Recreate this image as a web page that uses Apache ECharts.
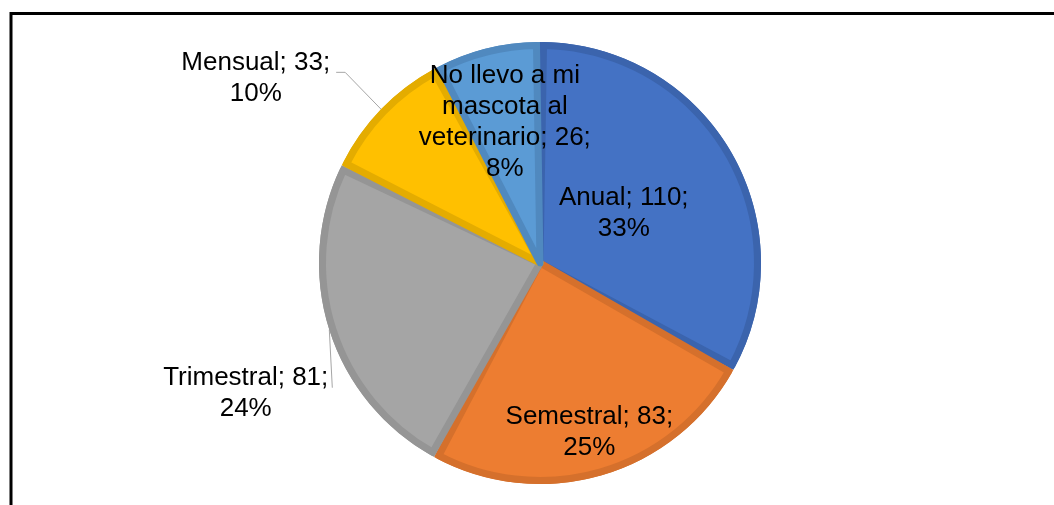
<!DOCTYPE html>
<html>
<head>
<meta charset="utf-8">
<script src="https://cdn.jsdelivr.net/npm/echarts@6/dist/echarts.min.js"></script>
<style>
  html, body { margin: 0; padding: 0; background: #fff; overflow: hidden; }
  #chart { width: 1054px; height: 505px; }
</style>
</head>
<body>
<div id="chart"></div>
<script>
// How often pets are taken to the vet
const categories = ['Anual', 'Semestral', 'Trimestral', 'Mensual', 'No llevo a mi\nmascota al\nveterinario'];
const values = [110, 83, 81, 33, 26];
const fillColors = ['#4472C4', '#ED7D31', '#A5A5A5', '#FFC000', '#5B9BD5'];
const edgeColors = ['#3B64AD', '#D5702C', '#959595', '#E4AC00', '#5089BF'];

const CX = 540, CY = 263, R = 221, EDGE = 7;

// Label placement: inside labels sit on the slice bisector at a fraction of the radius;
// outside labels hang off the rim point with a bent leader line.
const labelPlacement = {
  0: { frac: 0.44 },
  1: { frac: 0.80 },
  4: { frac: 0.655 },
  3: { line: [[-36, -37], [-45, -37]], right: -51, dy: -31 },
  2: { line: [[3, 58], [3, 58]], right: -1, dy: 64 }
};

const total = values.reduce((a, b) => a + b, 0);
function midAngle(i) {
  let before = 0;
  for (let k = 0; k < i; k++) before += values[k];
  return (90 - (before + values[i] / 2) / total * 360) * Math.PI / 180;
}

const fillData = categories.map((name, i) => {
  const outside = labelPlacement[i].frac === undefined;
  return {
    name: name,
    value: values[i],
    itemStyle: { color: fillColors[i], borderColor: edgeColors[i] },
    label: { position: outside ? 'outside' : 'inside' },
    labelLine: { show: outside }
  };
});
const edgeData = categories.map((name, i) => ({
  name: name,
  value: values[i],
  itemStyle: { color: edgeColors[i] }
}));

const chart = echarts.init(document.getElementById('chart'), null, { renderer: 'canvas' });
chart.setOption({
  animation: false,
  backgroundColor: '#ffffff',
  graphic: [{
    type: 'rect',
    silent: true,
    shape: { x: 11, y: 13.5, width: 1200, height: 800 },
    style: { fill: 'none', stroke: '#000000', lineWidth: 3 }
  }],
  series: [
    {
      // darker rim underneath, shows through as the slice outlines
      type: 'pie',
      silent: true,
      center: [CX, CY],
      radius: R,
      startAngle: 90,
      clockwise: true,
      label: { show: false },
      labelLine: { show: false },
      emphasis: { disabled: true },
      data: edgeData,
      z: 1
    },
    {
      type: 'pie',
      center: [CX, CY],
      radius: R - EDGE / 2,
      startAngle: 90,
      clockwise: true,
      padAngle: 1.85,
      percentPrecision: 0,
      avoidLabelOverlap: false,
      emphasis: { disabled: true },
      itemStyle: { borderWidth: EDGE, borderJoin: 'round' },
      label: {
        show: true,
        formatter: p => `${p.name}; ${p.value};\n${p.percent}%`,
        fontFamily: '"Liberation Sans", Arial, sans-serif',
        fontSize: 26,
        lineHeight: 31,
        color: '#000000',
        align: 'center'
      },
      labelLine: {
        length: 10,
        length2: 10,
        lineStyle: { color: '#A6A6A6', width: 1 }
      },
      labelLayout: function (params) {
        const i = params.dataIndex;
        const p = labelPlacement[i];
        const a = midAngle(i);
        const ux = Math.cos(a), uy = -Math.sin(a);
        const rect = params.labelRect;
        if (p.frac !== undefined) {
          return {
            x: CX + ux * p.frac * R,
            y: CY + uy * p.frac * R,
            align: 'center',
            verticalAlign: 'middle'
          };
        }
        const rx = CX + ux * R, ry = CY + uy * R;
        return {
          x: rx + p.right - rect.width / 2,
          y: ry + p.dy,
          align: 'center',
          verticalAlign: 'middle',
          labelLinePoints: [
            [rx, ry],
            [rx + p.line[0][0], ry + p.line[0][1]],
            [rx + p.line[1][0], ry + p.line[1][1]]
          ]
        };
      },
      data: fillData,
      z: 2
    }
  ]
});
</script>
</body>
</html>
